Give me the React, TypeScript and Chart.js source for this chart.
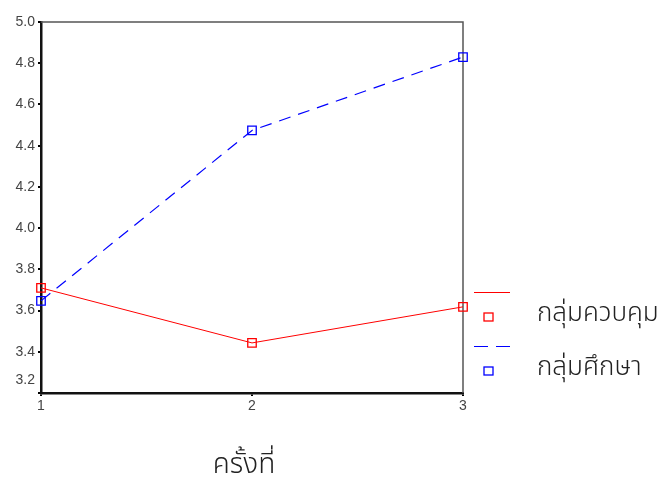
import React, { useEffect, useRef } from "react";
import { Chart, registerables } from "chart.js";

Chart.register(...registerables);

const sessions = [1, 2, 3];
const controlValues = [3.71, 3.443, 3.618];
const studyValues = [3.647, 4.474, 4.83];
const controlLabel = "กลุ่มควบคุม";
const studyLabel = "กลุ่มศึกษา";
const xTitle = "ครั้งที่";
const yMinLabel = "3.2";
const THAI_FONT = "'Noto Sans Thai', 'Noto Sans Thai Looped', Tahoma, 'DejaVu Sans', 'Noto Sans', sans-serif";
const TICK_FONT = "'Liberation Sans', Arial, sans-serif";

const framePlugin = {
  id: "frame",
  beforeDatasetsDraw(chart: any) {
    const { ctx, chartArea } = chart;
    ctx.save();
    ctx.strokeStyle = "#555";
    ctx.lineWidth = 1.5;
    ctx.beginPath();
    ctx.moveTo(chartArea.left, chartArea.top);
    ctx.lineTo(chartArea.right, chartArea.top);
    ctx.lineTo(chartArea.right, chartArea.bottom);
    ctx.stroke();
    ctx.restore();
  },
  afterDraw(chart: any) {
    const { ctx, chartArea } = chart;
    ctx.save();
    // raised lowest y tick label
    ctx.fillStyle = "#444";
    ctx.font = `14px ${TICK_FONT}`;
    ctx.textAlign = "right";
    ctx.textBaseline = "middle";
    ctx.fillText(yMinLabel, chartArea.left - 6, chartArea.bottom - 13);

    const lx0 = chartArea.right + 11;
    const lx1 = chartArea.right + 47;
    const mx = chartArea.right + 25;
    const tx = chartArea.right + 74;
    const items = [
      { y: 292, color: "#ff0000", dash: [] as number[], label: controlLabel },
      { y: 346, color: "#0000ff", dash: [14, 8], label: studyLabel },
    ];
    for (const it of items) {
      ctx.strokeStyle = it.color;
      ctx.lineWidth = 1;
      ctx.setLineDash(it.dash);
      ctx.beginPath();
      ctx.moveTo(lx0, it.y + 0.5);
      ctx.lineTo(lx1, it.y + 0.5);
      ctx.stroke();
      ctx.setLineDash([]);
      ctx.lineWidth = 1.3;
      ctx.strokeRect(mx - 4, it.y + 21, 9, 8);
      ctx.fillStyle = "#222";
      ctx.font = `300 26px ${THAI_FONT}`;
      ctx.textAlign = "left";
      ctx.textBaseline = "middle";
      ctx.fillText(it.label, tx, it.y + 24);
    }
    ctx.fillStyle = "#222";
    ctx.font = `300 28px ${THAI_FONT}`;
    ctx.textAlign = "center";
    ctx.textBaseline = "middle";
    ctx.fillText(xTitle, 244, 467);
    ctx.restore();
  },
};

export default function App() {
  const ref = useRef<HTMLCanvasElement | null>(null);
  useEffect(() => {
    document.body.style.margin = "0";
    const chart = new Chart(ref.current as HTMLCanvasElement, {
      type: "line",
      data: {
        datasets: [
          {
            label: controlLabel,
            data: sessions.map((s, i) => ({ x: s, y: controlValues[i] })),
            borderColor: "#ff0000",
            borderWidth: 1,
            pointStyle: "rect",
            pointRadius: 6,
            pointBorderColor: "#ff0000",
            pointBackgroundColor: "rgba(255,255,255,0)",
            pointBorderWidth: 1.3,
            tension: 0,
            clip: false,
          },
          {
            label: studyLabel,
            data: sessions.map((s, i) => ({ x: s, y: studyValues[i] })),
            borderColor: "#0000ff",
            borderWidth: 1.2,
            borderDash: [12, 8],
            pointStyle: "rect",
            pointRadius: 6,
            pointBorderColor: "#0000ff",
            pointBackgroundColor: "rgba(255,255,255,0)",
            pointBorderWidth: 1.3,
            tension: 0,
            clip: false,
          },
        ],
      },
      options: {
        animation: false,
        responsive: true,
        maintainAspectRatio: false,
        layout: { padding: { left: 0, top: 22, right: 198, bottom: 0 } },
        plugins: { legend: { display: false }, tooltip: { enabled: false } },
        scales: {
          x: {
            type: "linear",
            min: 1,
            max: 3,
            ticks: {
              stepSize: 1,
              color: "#444",
              font: { family: TICK_FONT, size: 14 },
              padding: 2,
            },
            grid: { drawOnChartArea: false, drawTicks: true, tickLength: 3, color: "#000", lineWidth: 2 },
            border: { color: "#111", width: 2.5 },
            afterFit(scale: any) {
              scale.height = 85;
            },
          },
          y: {
            min: 3.2,
            max: 5.0,
            ticks: {
              stepSize: 0.2,
              color: "#444",
              font: { family: TICK_FONT, size: 14 },
              padding: 3,
              callback: (v: any) => (Math.abs(Number(v) - 3.2) < 1e-6 ? "" : Number(v).toFixed(1)),
            },
            grid: { drawOnChartArea: false, drawTicks: true, tickLength: 3, color: "#000", lineWidth: 2 },
            border: { color: "#111", width: 2.5 },
            afterFit(scale: any) {
              scale.width = 41;
            },
          },
        },
      },
      plugins: [framePlugin],
    });
    return () => chart.destroy();
  }, []);
  return (
    <div style={{ position: "fixed", left: 0, top: 0, width: 661, height: 478, background: "#fff" }}>
      <canvas ref={ref} />
    </div>
  );
}
